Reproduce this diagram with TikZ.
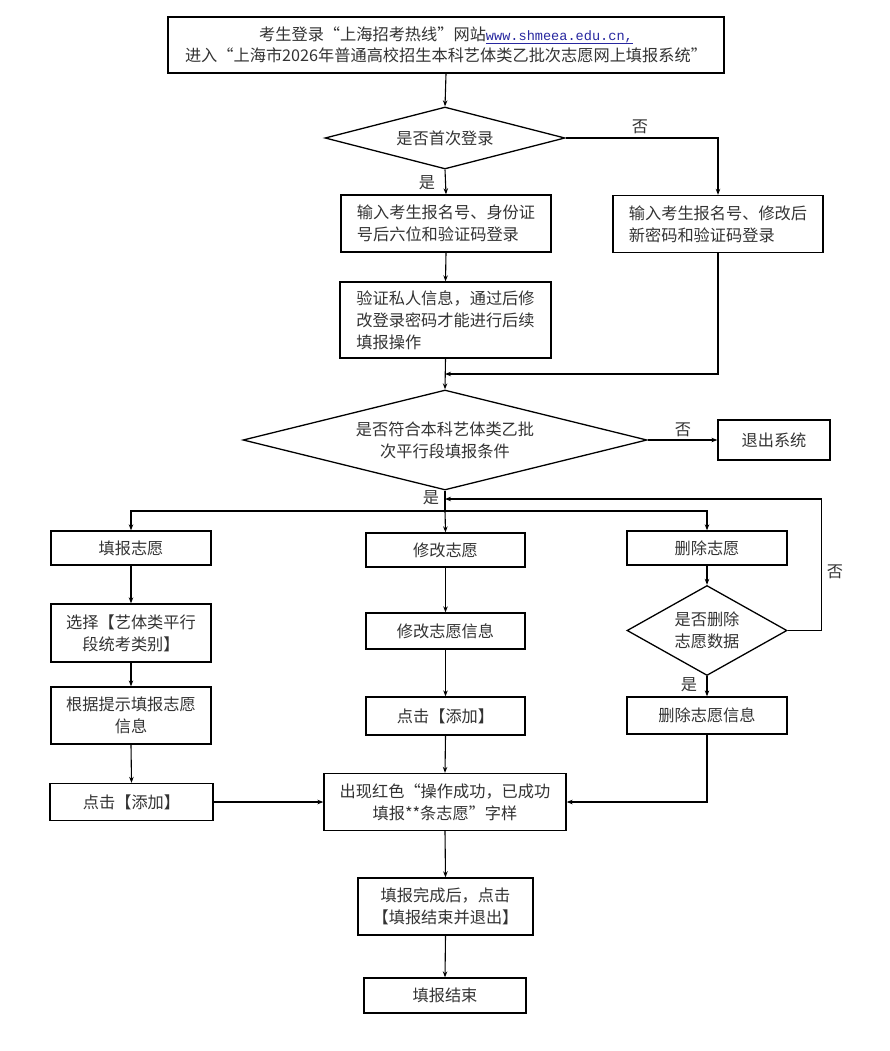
\documentclass[tikz,border=0pt]{standalone}
\usepackage{fontspec}
\newfontfamily\cjk{Noto Sans CJK SC}
\newfontfamily\urlfont{Liberation Mono}
\usetikzlibrary{shapes.geometric,arrows.meta}
\definecolor{urlblue}{RGB}{40,40,160}
\newlength\myulw
\newcommand\myuline[1]{\settowidth{\myulw}{#1}\rlap{\rule[-2.5pt]{\myulw}{0.9pt}}#1}
\tikzset{
  box/.style={draw, line width=1.3pt, inner sep=0pt, font=\cjk\fontsize{16.2}{22}\selectfont, text=black!80},
  dia/.style={draw, diamond, line width=1.3pt, inner sep=0pt},
  dtext/.style={inner sep=0pt, align=center, font=\cjk\fontsize{16.2}{22}\selectfont, text=black!80},
  lab/.style={inner sep=0pt, font=\cjk\fontsize{16.2}{22}\selectfont, text=black!80},
  arr/.style={line width=1.1pt, -{Stealth[length=6pt,width=4.5pt]}},
  ln/.style={line width=1.1pt},
}
\begin{document}
\begin{tikzpicture}[x=1pt,y=-1pt]
\fill[white] (0,0) rectangle (889,1051);
\useasboundingbox (0,0) rectangle (889,1051);

% top box
\node[box, minimum width=556pt, minimum height=56pt, align=center, font=\cjk\fontsize{16.2}{20.5}\selectfont] (top) at (446,45)
  {考生登录“上海招考热线”网站\textcolor{urlblue}{\urlfont\fontsize{13.6}{20}\selectfont\myuline{www.shmeea.edu.cn,}}\\
   进入“上海市2026年普通高校招生本科艺体类乙批次志愿网上填报系统”};

% decision 1
\node[dia, minimum width=240pt, minimum height=62pt] (d1) at (445,138) {};
\node[dtext] (d1t) at (d1.center) {是否首次登录};
\node[lab] (no1) at (640,127) {否};
\node[lab] (yes1) at (427,183) {是};

\node[box, minimum width=210pt, minimum height=57pt, align=left] (A) at (446,223.5)
  {输入考生报名号、身份证\\号后六位和验证码登录};
\node[box, minimum width=210pt, minimum height=57pt, align=left] (B) at (718,224)
  {输入考生报名号、修改后\\新密码和验证码登录};
\node[box, minimum width=211pt, minimum height=76pt, align=left] (C) at (445.5,320)
  {验证私人信息，通过后修\\改登录密码才能进行后续\\填报操作};
\coordinate (merge) at (445,374);

% decision 2
\node[dia, minimum width=404pt, minimum height=100pt] (d2) at (445,440) {};
\node[dtext] (d2t) at (d2.center) {是否符合本科艺体类乙批\\次平行段填报条件};
\node[box, minimum width=112pt, minimum height=40pt] (exit) at (774,440) {退出系统};
\node[lab] (no2) at (683,430) {否};
\node[lab] (yes2) at (431,498) {是};
\coordinate (split) at (445,511);
\coordinate (loop) at (445,499);

% three columns
\node[box, minimum width=160pt, minimum height=34pt] (f1) at (131,548) {填报志愿};
\node[box, minimum width=159pt, minimum height=34pt] (m1) at (445.5,550) {修改志愿};
\node[box, minimum width=160pt, minimum height=34pt] (del1) at (707,548) {删除志愿};

\node[box, minimum width=160pt, minimum height=58pt, align=center] (f2) at (131,633) {选择【艺体类平行\\段统考类别】};
\node[box, minimum width=160pt, minimum height=57pt, align=center] (f3) at (131,715.5) {根据提示填报志愿\\信息};
\node[box, minimum width=163pt, minimum height=37pt] (f4) at (131.5,802) {点击【添加】};

\node[box, minimum width=159pt, minimum height=36pt] (m2) at (445.5,631) {修改志愿信息};
\node[box, minimum width=159pt, minimum height=38pt] (m3) at (445.5,716) {点击【添加】};

\node[dia, minimum width=160pt, minimum height=90pt] (d3) at (707,630.5) {};
\node[dtext] (d3t) at (d3.center) {是否删除\\志愿数据};
\node[lab] (no3) at (835,572) {否};
\node[lab] (yes3) at (689,685) {是};
\node[box, minimum width=160pt, minimum height=37pt] (del2) at (707,715.5) {删除志愿信息};

\node[box, minimum width=242pt, minimum height=57pt, align=center] (big) at (445,802)
  {出现红色“操作成功，已成功\\填报**条志愿”字样};
\node[box, minimum width=175pt, minimum height=57pt, align=center] (fin1) at (445.5,906.5)
  {填报完成后，点击\\【填报结束并退出】};
\node[box, minimum width=162pt, minimum height=35pt] (end) at (445,995.5) {填报结束};

% connectors
\draw[arr] (top.south) -- (d1.north);
\draw[arr] (d1.east) -| (B.north);
\draw[arr] (d1.south) -- (A.north);
\draw[arr] (A.south) -- (C.north);
\draw[arr] (B.south) |- (merge);
\draw[arr] (C.south) -- (d2.north);
\draw[arr] (d2.east) -- (exit.west);
\draw[ln] (d2.south) -- (split);
\draw[arr] (split) -| (f1.north);
\draw[arr] (split) -| (del1.north);
\draw[arr] (split) -- (m1.north);
\draw[arr] (f1.south) -- (f2.north);
\draw[arr] (f2.south) -- (f3.north);
\draw[arr] (f3.south) -- (f4.north);
\draw[arr] (f4.east) -- (big.west);
\draw[arr] (m1.south) -- (m2.north);
\draw[arr] (m2.south) -- (m3.north);
\draw[arr] (m3.south) -- (big.north);
\draw[arr] (del1.south) -- (d3.north);
\draw[arr] (d3.south) -- (del2.north);
\draw[arr] (del2.south) |- (big.east);
\draw[arr] (d3.east) -- ++(34,0) |- (loop);
\draw[arr] (big.south) -- (fin1.north);
\draw[arr] (fin1.south) -- (end.north);
\end{tikzpicture}
\end{document}
